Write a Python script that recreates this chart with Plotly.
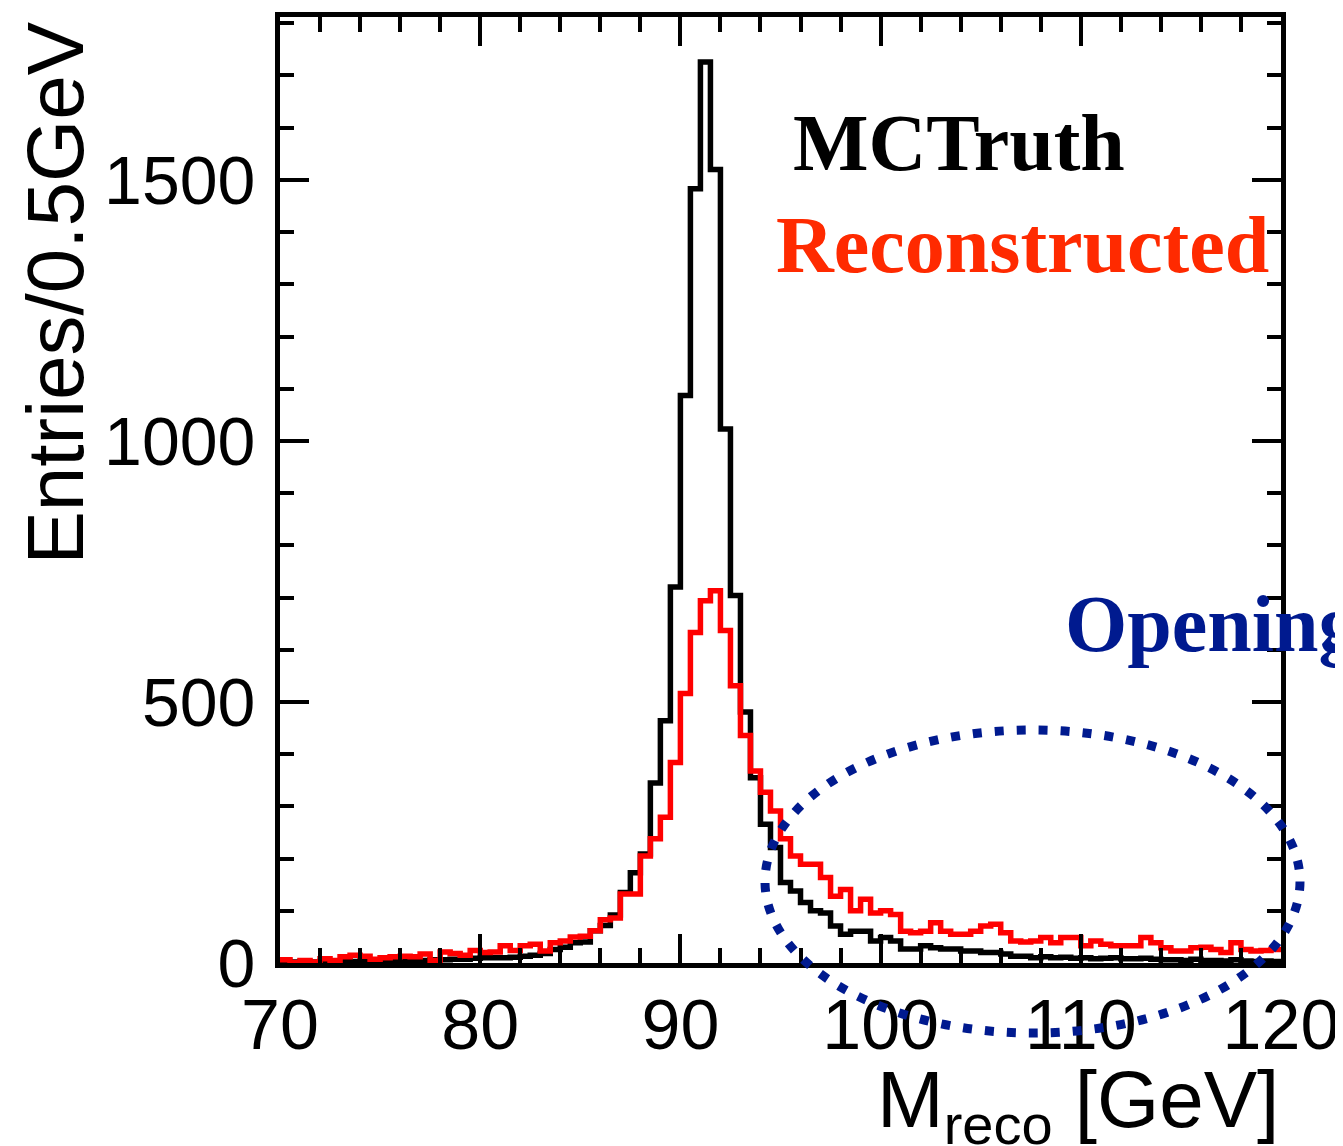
import plotly.graph_objects as go

# Bin layout (GeV): 0.5 GeV bins from 70 to 120
bin_low = 70.0
bin_width = 0.5

# MCTruth histogram (entries per 0.5 GeV), bins 70.0 ... 119.5
mc_truth = [
    3, 2, 3, 2, 3, 3, 4, 3, 4, 4,            # 70.0 - 74.5
    5, 4, 5, 5, 5, 6, 6, 7, 7, 9,            # 75.0 - 79.5
    10, 10, 10, 11, 13, 15, 18, 26, 30, 39,  # 80.0 - 84.5
    40, 62, 72, 92, 135, 173, 209, 345, 464, 720,  # 85.0 - 89.5
    1087, 1483, 1726, 1520, 1023, 704, 481, 355, 266, 221,  # 90.0 - 94.5
    154, 138, 116, 100, 96, 71, 55, 61, 61, 42,  # 95.0 - 99.5
    49, 42, 27, 27, 33, 29, 27, 27, 23, 23,  # 100.0 - 104.5
    20, 20, 17, 13, 13, 10, 12, 10, 11, 9,   # 105.0 - 109.5
    10, 8, 9, 10, 8, 8, 9, 7, 6, 6,          # 110.0 - 114.5
    5, 7, 5, 5, 4, 6, 4, 3, 4, 3,            # 115.0 - 119.5
]

# Reconstructed histogram (entries per 0.5 GeV), bins 70.0 ... 119.5
reconstructed = [
    6, 1, 5, 2, 8, 5, 12, 15, 13, 7,         # 70.0 - 74.5
    10, 12, 13, 12, 17, 5, 21, 18, 15, 24,   # 75.0 - 79.5
    20, 21, 33, 24, 33, 36, 23, 39, 42, 50,  # 80.0 - 84.5
    51, 62, 83, 86, 132, 132, 205, 238, 279, 384,  # 85.0 - 89.5
    516, 633, 694, 713, 637, 531, 436, 368, 327, 291,  # 90.0 - 94.5
    238, 205, 189, 189, 164, 128, 141, 100, 122, 96,  # 95.0 - 99.5
    100, 93, 61, 58, 61, 77, 61, 55, 55, 61,  # 100.0 - 104.5
    71, 74, 58, 42, 40, 42, 49, 39, 49, 49,  # 105.0 - 109.5
    33, 42, 36, 33, 33, 33, 49, 39, 29, 23,  # 110.0 - 114.5
    23, 29, 30, 26, 20, 39, 26, 23, 24, 26,  # 115.0 - 119.5
]

x_range = [70, 120]
y_range = [0, 1812]

edges = [bin_low + bin_width * i for i in range(len(mc_truth) + 1)]


def step_y(vals):
    return list(vals) + [vals[-1]]


fig = go.Figure()
fig.add_trace(go.Scatter(
    x=edges, y=step_y(mc_truth), mode="lines", line_shape="hv",
    line=dict(color="black", width=5.5), name="MCTruth", showlegend=False,
))
fig.add_trace(go.Scatter(
    x=edges, y=step_y(reconstructed), mode="lines", line_shape="hv",
    line=dict(color="#FF0000", width=5.5), name="Reconstructed", showlegend=False,
))

# The page body has an 8px default margin; compensate so the plot frame
# lands at screen x 280..1281, y 17..963.
OFF = 8
W, H = 1343 - OFF, 1146 - OFF
L, R, T, B = 280 - OFF, 62, 17 - OFF, 183
pw = W - L - R
ph = H - T - B


def px(xs):
    return (xs - OFF - L) / pw


def py(ys):
    return (OFF + H - B - ys) / ph


axis_common = dict(
    showline=True, linecolor="black", linewidth=5, mirror="allticks",
    ticks="inside", ticklen=29, tickwidth=4, tickcolor="black",
    showgrid=False, zeroline=False, automargin=False,
)

fig.update_xaxes(
    range=x_range, dtick=10, tick0=70,
    minor=dict(dtick=2, ticks="inside", ticklen=15, tickwidth=4, tickcolor="black", showgrid=False),
    tickfont=dict(family="Liberation Sans, Arial, sans-serif", size=70, color="black"),
    ticklabelstandoff=-3,
    **axis_common,
)
fig.update_yaxes(
    range=y_range, dtick=500, tick0=0,
    minor=dict(dtick=100, ticks="inside", ticklen=14, tickwidth=4, tickcolor="black", showgrid=False),
    tickfont=dict(family="Liberation Sans, Arial, sans-serif", size=68, color="black"),
    ticklabelstandoff=6,
    **axis_common,
)

annotations = [
    dict(text="<b>MCTruth</b>", x=px(791), y=py(143), xref="paper", yref="paper",
         xanchor="left", yanchor="middle", showarrow=False,
         font=dict(family="Liberation Serif, Times New Roman, serif", size=80, color="black")),
    dict(text="<b>Reconstructed</b>", x=px(774), y=py(245), xref="paper", yref="paper",
         xanchor="left", yanchor="middle", showarrow=False,
         font=dict(family="Liberation Serif, Times New Roman, serif", size=80, color="#FF2A00")),
    dict(text="<b>Opening</b>", x=px(1063), y=py(624), xref="paper", yref="paper",
         xanchor="left", yanchor="middle", showarrow=False,
         font=dict(family="Liberation Serif, Times New Roman, serif", size=80, color="#001A8F")),
    dict(text="M<sub>reco</sub> [GeV]", x=1.0, y=py(1105), xref="paper", yref="paper",
         xanchor="right", yanchor="middle", showarrow=False,
         font=dict(family="Liberation Sans, Arial, sans-serif", size=80, color="black")),
    dict(text="Entries/0.5GeV", x=px(55), y=py(20), xref="paper", yref="paper",
         xanchor="center", yanchor="top", showarrow=False, textangle=-90,
         font=dict(family="Liberation Sans, Arial, sans-serif", size=80, color="black")),
]

shapes = [
    dict(type="circle", xref="paper", yref="paper",
         x0=px(765), x1=px(1300), y0=py(1033), y1=py(730),
         line=dict(color="#001A8F", width=9, dash="9px,13px"), layer="above"),
]

fig.update_layout(
    width=W, height=H,
    margin=dict(l=L, r=R, t=T, b=B, autoexpand=False),
    paper_bgcolor="white", plot_bgcolor="white",
    annotations=annotations, shapes=shapes,
    showlegend=False,
)

fig.write_html("out.html")
